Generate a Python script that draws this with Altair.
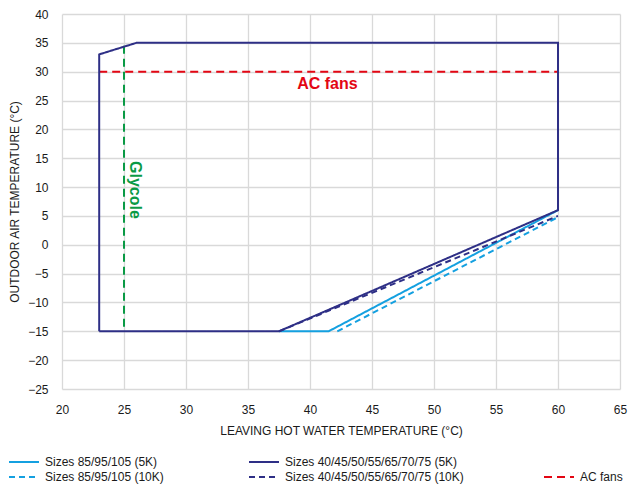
import altair as alt
import pandas as pd

# ---- data ----
dark5_x = [23, 23, 26, 60, 60, 37.5, 23]
dark5_y = [-15, 33, 35, 35, 6, -15, -15]
dark10_x = [37.5, 60]
dark10_y = [-15, 5]
light5_x = [37.5, 41.5, 60]
light5_y = [-15, -15, 6]
light10_x = [42.2, 60]
light10_y = [-15, 4.8]
ac_x = [23, 60]
ac_y = [30, 30]
gly_x = [25, 25]
gly_y = [34.5, -15]

S_L5 = "Sizes 85/95/105 (5K)"
S_L10 = "Sizes 85/95/105 (10K)"
S_D5 = "Sizes 40/45/50/55/65/70/75 (5K)"
S_D10 = "Sizes 40/45/50/55/65/70/75 (10K)"
S_AC = "AC fans"

ann_text = ["AC fans", "Glycole"]
ann_x = [41.4, 25.9]
ann_y = [27.9, 9.5]

LIGHT = "#14A0E0"
DARK = "#2E2F86"
RED = "#E30613"
GREEN = "#0A9A45"
FONT = "Liberation Sans"


def series_df(name, xs, ys):
    return pd.DataFrame({"series": name, "x": xs, "y": ys, "o": list(range(len(xs)))})


xsc = alt.Scale(domain=[20, 65], nice=False)
ysc = alt.Scale(domain=[-25, 40], nice=False)
X = alt.X("x:Q", scale=xsc, title="LEAVING HOT WATER TEMPERATURE (°C)",
          axis=alt.Axis(values=list(range(20, 66, 5)), labelFlush=False))
Y = alt.Y("y:Q", scale=ysc, title="OUTDOOR AIR TEMPERATURE (°C)",
          axis=alt.Axis(values=list(range(-25, 41, 5)), labelFlush=False))

leg_common = dict(orient="none", title=None, symbolSize=900, symbolStrokeWidth=2,
                  labelFontSize=12, labelFont=FONT, labelColor="#1a1a1a",
                  labelOffset=5, labelLimit=400)


def series_layer(name, xs, ys, color, dash, lx, ly):
    leg = alt.Legend(legendX=lx, legendY=ly, **leg_common)
    return alt.Chart(series_df(name, xs, ys)).mark_line(strokeWidth=2, strokeCap="butt").encode(
        x=X, y=Y,
        order="o:Q",
        color=alt.Color("series:N", scale=alt.Scale(domain=[name], range=[color]), legend=leg),
        strokeDash=alt.StrokeDash("series:N", scale=alt.Scale(domain=[name], range=[dash]), legend=leg),
    )


R1 = 432
R2 = 447
l5 = series_layer(S_L5, light5_x, light5_y, LIGHT, [1, 0], -54, R1)
l10 = series_layer(S_L10, light10_x, light10_y, LIGHT, [6, 4], -54, R2)
d5 = series_layer(S_D5, dark5_x, dark5_y, DARK, [1, 0], 186, R1)
d10 = series_layer(S_D10, dark10_x, dark10_y, DARK, [6, 4], 186, R2)
ac = series_layer(S_AC, ac_x, ac_y, RED, [8, 5], 481, R2)

gly = alt.Chart(series_df("Glycole", gly_x, gly_y)).mark_line(
    strokeWidth=2, strokeDash=[8, 5], color=GREEN).encode(x=X, y=Y, order="o:Q")

ann_df = pd.DataFrame({"t": ann_text, "x": ann_x, "y": ann_y})
ac_txt = alt.Chart(ann_df.iloc[[0]]).mark_text(
    font=FONT, fontSize=16, fontWeight="bold", color=RED).encode(x=X, y=Y, text="t:N")
gly_txt = alt.Chart(ann_df.iloc[[1]]).mark_text(
    font=FONT, fontSize=16, fontWeight="bold", color=GREEN, angle=90).encode(x=X, y=Y, text="t:N")

chart = alt.layer(gly, ac, l5, l10, d10, d5, ac_txt, gly_txt).resolve_scale(
    color="independent", strokeDash="independent"
).resolve_legend(color="independent", strokeDash="independent").properties(
    width=558, height=375,
    padding={"left": 54, "top": 6, "right": 8, "bottom": 97},
    autosize=alt.AutoSizeParams(type="none"),
).configure_view(stroke=None).configure_axis(
    grid=True, gridColor="#d9d9d9", gridWidth=1.3, domain=False, ticks=False,
    labelFont=FONT, labelFontSize=12, labelColor="#1a1a1a",
    titleFont=FONT, titleFontSize=12, titleFontWeight="normal", titleColor="#1a1a1a",
).configure_axisX(labelPadding=15, titlePadding=10).configure_axisY(labelPadding=14, titlePadding=6)

chart.save("out.html", embed_options={"renderer": "svg", "actions": False})
